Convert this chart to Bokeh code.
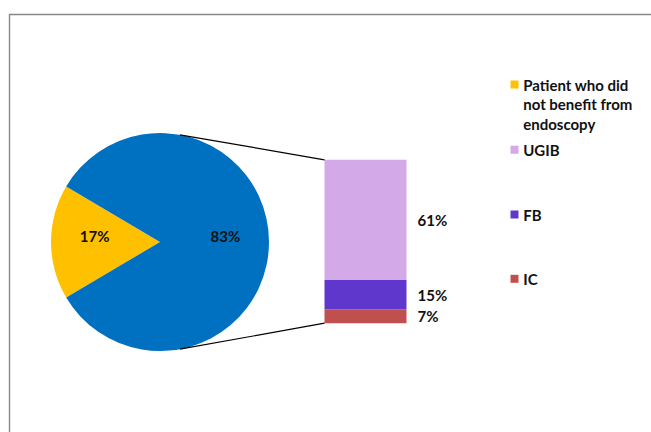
import numpy as np
from bokeh.plotting import figure
from bokeh.models import Range1d
from bokeh.core.properties import value
from bokeh.embed import file_html
from bokeh.resources import INLINE

# ---- data ----
pie_labels = ["Patient who did not benefit from endoscopy", "Benefited"]
pie_values = [17, 83]
pie_colors = ["#FFC000", "#0070C0"]

bar_labels = ["IC", "FB", "UGIB"]          # bottom -> top
bar_values = [7, 15, 61]
bar_colors = ["#C0504D", "#5F37CD", "#D4A9E8"]

legend_labels = [["Patient who did", "not benefit from", "endoscopy"], ["UGIB"], ["FB"], ["IC"]]
legend_colors = ["#FFC000", "#D4A9E8", "#5F37CD", "#C0504D"]

W, H = 651, 432
FONT = "Lato"
FS = "15px"

p = figure(width=W, height=H, output_backend="svg", toolbar_location=None,
           x_range=Range1d(0, W), y_range=Range1d(0, H), min_border=0)
p.axis.visible = False
p.grid.visible = False
p.outline_line_color = None
p.background_fill_color = "white"

# frame border (left and top only visible)
p.line([9, 9, W + 5], [-5, 418, 418], line_color="#888888", line_width=1.4)

# ---- pie ----
cx, cy, R = 159.5, 190.5, 109
total = sum(pie_values)
half = np.pi * pie_values[0] / total
starts = [np.pi - half, np.pi + half]
ends = [np.pi + half, np.pi - half + 2 * np.pi]
p.wedge(x=[cx, cx], y=[cy, cy], radius=R, start_angle=starts, end_angle=ends,
        fill_color=pie_colors, line_color=None)

mids = [(s + e) / 2 for s, e in zip(starts, ends)]
p.text(x=[cx + 0.6 * R * np.cos(m) for m in mids],
       y=[cy + 0.6 * R * np.sin(m) + 6 for m in mids],
       text=[f"{v}%" for v in pie_values], text_align="center", text_baseline="middle",
       text_font=value(FONT), text_font_style="bold", text_font_size=FS, text_color="#111111")

# ---- bar (stacked, own scale) ----
bar_total = sum(bar_values)
y0_px, y1_px = 109.3, 272.7
k = (y1_px - y0_px) / bar_total
p.extra_y_ranges = {"bar": Range1d(-y0_px / k, (H - y0_px) / k)}
bottoms = np.concatenate([[0], np.cumsum(bar_values)[:-1]])
tops = np.cumsum(bar_values)
bx0, bx1 = 324, 406
p.quad(left=bx0, right=bx1, bottom=list(bottoms), top=list(tops), fill_color=bar_colors,
       line_color=None, y_range_name="bar")
p.text(x=[417] * 3, y=list((bottoms + tops) / 2), text=[f"{v}%" for v in bar_values],
       text_align="left", text_baseline="middle", y_range_name="bar",
       text_font=value(FONT), text_font_style="bold", text_font_size=FS, text_color="#111111")

# connectors
ang = np.deg2rad(79.5)
p.line([cx + R * np.cos(ang), bx0], [cy + R * np.sin(ang), y1_px], line_color="black", line_width=1.2)
p.line([cx + R * np.cos(-ang), bx0], [cy + R * np.sin(-ang), y0_px], line_color="black", line_width=1.2)

# ---- legend ----
ly = [348, 282.7, 218, 153.7]
p.rect(x=[514] * 4, y=ly, width=8, height=8, fill_color=legend_colors, line_color=None)
tx, ty, tt = [], [], []
for yy, lines in zip(ly, legend_labels):
    for i, t in enumerate(lines):
        tx.append(522.7)
        ty.append(yy - 19.7 * i)
        tt.append(t)
p.text(x=tx, y=ty, text=tt, text_align="left", text_baseline="middle",
       text_font=value(FONT), text_font_style="bold", text_font_size=FS, text_color="#111111")

open("out.html", "w").write(file_html(p, INLINE))
